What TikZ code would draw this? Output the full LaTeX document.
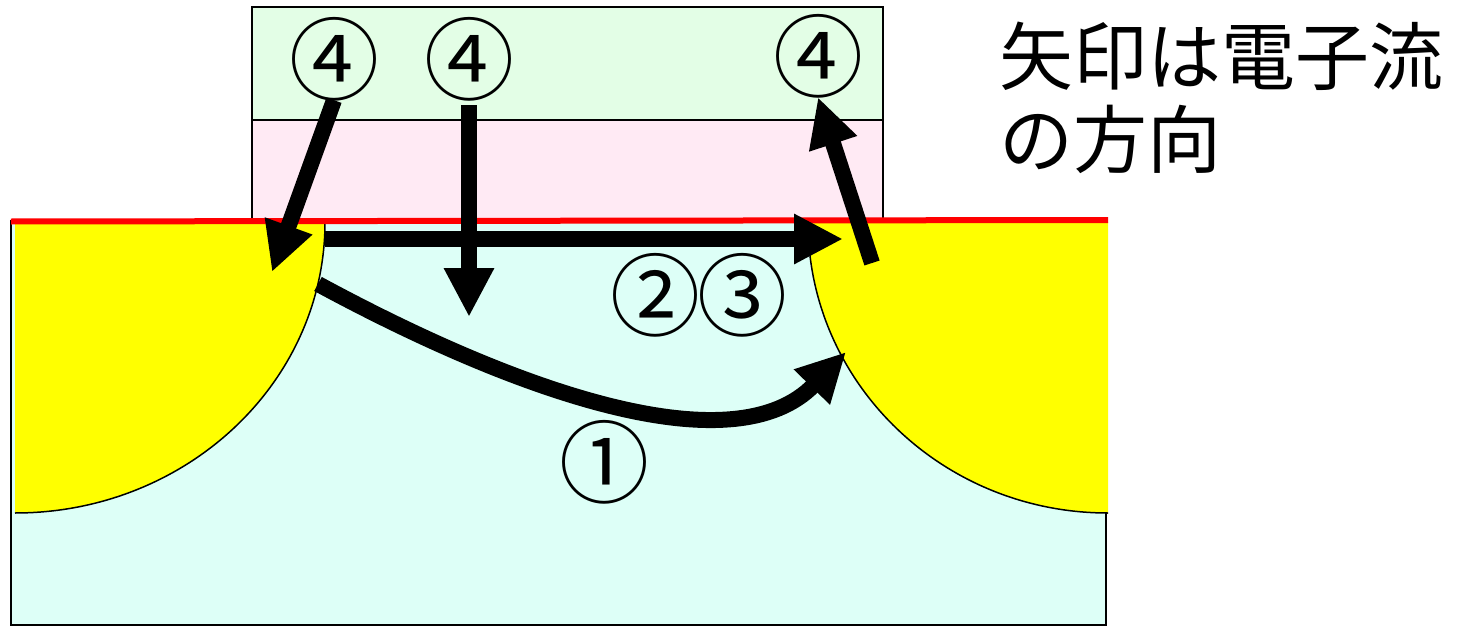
\documentclass[tikz,border=0pt]{standalone}
\usepackage{fontspec}
\usepackage{xcolor}
\setmainfont{Noto Sans CJK JP}
\usepackage{tikz}
\usetikzlibrary{arrows.meta}
\definecolor{gatecolor}{RGB}{227,254,230}
\definecolor{oxidecolor}{RGB}{255,234,244}
\definecolor{bulkcolor}{RGB}{221,255,247}
\definecolor{junctioncolor}{RGB}{255,255,0}
\definecolor{channelcolor}{RGB}{255,0,0}

\begin{document}
\begin{tikzpicture}[
  x=1pt, y=-1pt,
  layer/.style={draw=black, line width=1.5pt},
  junction/.style={fill=junctioncolor},
  edgeline/.style={draw=black, line width=1.5pt},
  num/.style={inner sep=0pt, text width=90pt, align=center, text height=72pt, text depth=6pt, font=\fontsize{90}{90}\selectfont},
  flow/.style={-{Triangle[length=49pt,width=47pt]}, draw=black, line width=16pt},
  note/.style={anchor=north west, inner sep=0pt, align=left, font=\fontsize{74}{83}\selectfont}
]
\useasboundingbox (0,0) rectangle (1460,626);
% device layers
\draw[layer, fill=bulkcolor] (11,221) rectangle (1106,625);
\draw[layer, fill=oxidecolor] (252,120) rectangle (883,219);
\draw[layer, fill=gatecolor] (252,7) rectangle (883,120);
\fill[junction] (15,222) -- (325,222) arc[start angle=0, end angle=90, x radius=310, y radius=291] -- cycle;
\fill[junction] (1108,222) -- (808,222) arc[start angle=180, end angle=90, x radius=300, y radius=291] -- cycle;
\draw[edgeline] (325,222) arc[start angle=0, end angle=90, x radius=310, y radius=291];
\draw[edgeline] (808,222) arc[start angle=180, end angle=90, x radius=300, y radius=291];
\draw[channelcolor, line width=6pt] (11,221.5) -- (1108,220);

\node[num] (fourA) at (334,61) {④};
\node[num] (fourB) at (469,61) {④};
\node[num] (fourC) at (818,58) {④};
\node[num] (two) at (655,296) {②};
\node[num] (three) at (742,296) {③};
\node[num] (one) at (604,463) {①};
\node[note] (caption) at (999,22) {矢印は電子流\\の方向};

\coordinate (sourceTop) at (272,272);
\coordinate (sourceSide) at (325,239);
\coordinate (sourceLow) at (318,284);
\coordinate (bulkEnd) at (469,317);
\coordinate (drainSide) at (843,239);
\coordinate (drainLow) at (846,352);
\coordinate (drainTop) at (872,263);

\draw[flow] (fourA.south) -- (sourceTop);
\draw[flow, shorten <=5pt] (fourB.south) -- (bulkEnd);
\draw[flow] (sourceSide) -- (drainSide);
\draw[flow] (drainTop) -- (fourC.south);
\draw[flow] (sourceLow) .. controls (525,396) and (735,466) .. (drainLow);
\end{tikzpicture}
\end{document}
